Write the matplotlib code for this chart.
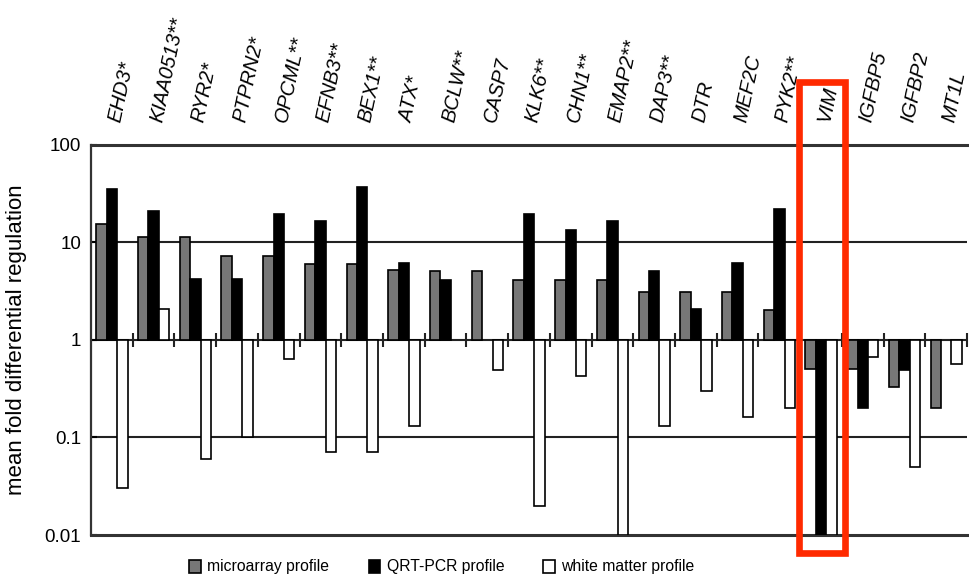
import numpy as np
import matplotlib
matplotlib.use("Agg")
import matplotlib.pyplot as plt
from matplotlib.patches import Rectangle, Patch
from matplotlib.transforms import blended_transform_factory

plt.rcParams["font.family"] = ["Liberation Sans", "DejaVu Sans"]

genes = ["EHD3*", "KIAA0513**", "RYR2*", "PTPRN2*", "OPCML**", "EFNB3**", "BEX1**",
         "ATX*", "BCLW**", "CASP7", "KLK6**", "CHN1**", "EMAP2**", "DAP3**", "DTR",
         "MEF2C", "PYK2**", "VIM", "IGFBP5", "IGFBP2", "MT1L"]
nan = np.nan
microarray = [15.3, 11.3, 11.3, 7.2, 7.2, 6.0, 6.0, 5.2, 5.1, 5.1, 4.1, 4.1, 4.1,
              3.05, 3.05, 3.05, 2.03, 0.50, 0.50, 0.33, 0.20]
qrtpcr = [35.4, 20.9, 4.2, 4.2, 19.6, 16.5, 36.8, 6.1, 4.1, nan, 19.6, 13.4, 16.5,
          5.1, 2.06, 6.1, 21.8, 0.01, 0.20, 0.49, nan]
white_matter = [0.030, 2.06, 0.060, 0.10, 0.64, 0.070, 0.070, 0.13, nan, 0.49, 0.020,
                0.43, 0.01, 0.13, 0.30, 0.163, 0.20, 0.01, 0.66, 0.050, 0.56]
series_labels = ["microarray profile", "QRT-PCR profile", "white matter profile"]
series_colors = ["#777777", "#000000", "#ffffff"]
ytick_vals = [0.01, 0.1, 1, 10, 100]
ytick_labels = ["0.01", "0.1", "1", "10", "100"]
highlight_gene = "VIM"

W, H = 969, 578
fig = plt.figure(figsize=(W / 100, H / 100), dpi=100)
ax = fig.add_axes([91 / W, 1 - 535 / H, (967 - 91) / W, (535 - 144.5) / H])

n = len(genes)
x = np.arange(n)
bw = 0.25
for off, vals, col in zip([-bw, 0, bw], [microarray, qrtpcr, white_matter], series_colors):
    v = np.array(vals, dtype=float)
    ax.bar(x + off, v - 1, bottom=1, width=bw, color=col, edgecolor="black",
           linewidth=1.2, zorder=3)

ax.set_yscale("log")
ax.set_ylim(0.01, 100)
ax.set_xlim(-0.5, n - 0.5)
ax.set_yticks(ytick_vals)
ax.set_yticklabels(ytick_labels)
ax.minorticks_off()
ax.tick_params(axis="y", labelsize=13.5, direction="in", length=4, width=1.5, pad=7)
ax.set_xticks([])

for yv in [0.1, 1, 10]:
    ax.axhline(yv, color="#222222", lw=1.5, zorder=1)

# small tick marks at group boundaries on the y=1 line
bx = np.arange(n) + 0.5
ax.plot(bx, np.ones_like(bx), ls="none", marker="|", markersize=10, mew=1.5,
        color="#222222", zorder=4, clip_on=False)

for s in ["top", "bottom"]:
    ax.spines[s].set_linewidth(2.2)
    ax.spines[s].set_color("#333333")
ax.spines["left"].set_linewidth(1.6)
ax.spines["left"].set_color("#333333")
ax.spines["right"].set_visible(False)

ax.set_ylabel("mean fold differential regulation", fontsize=16)
ax.yaxis.set_label_coords((17 - 91) / (967 - 91), 0.5)
ax.yaxis.label.set_va("center")

trans = blended_transform_factory(ax.transData, fig.transFigure)
for i, g in enumerate(genes):
    ax.text(i + 0.2, 1 - 123 / H, g, transform=trans, rotation=78,
            rotation_mode="anchor", ha="left", va="baseline", fontsize=14.5,
            style="italic")

# highlight box around VIM
hi = genes.index(highlight_gene)
rect = Rectangle((hi - 0.52, 1 - 553 / H), 1.1, (553 - 81.5) / H, transform=trans,
                 fill=False, edgecolor="#ff2a00", linewidth=4.8, zorder=10,
                 clip_on=False)
ax.add_patch(rect)

handles = [Patch(facecolor=c, edgecolor="black", linewidth=1.2) for c in series_colors]
fig.legend(handles, series_labels, loc="center", bbox_to_anchor=(442 / W, 1 - 567 / H),
           ncol=3, frameon=False, fontsize=11.3, handlelength=0.75, handleheight=0.9,
           handletextpad=0.4, columnspacing=2.5, borderpad=0)

fig.savefig("out.png", dpi=100)
